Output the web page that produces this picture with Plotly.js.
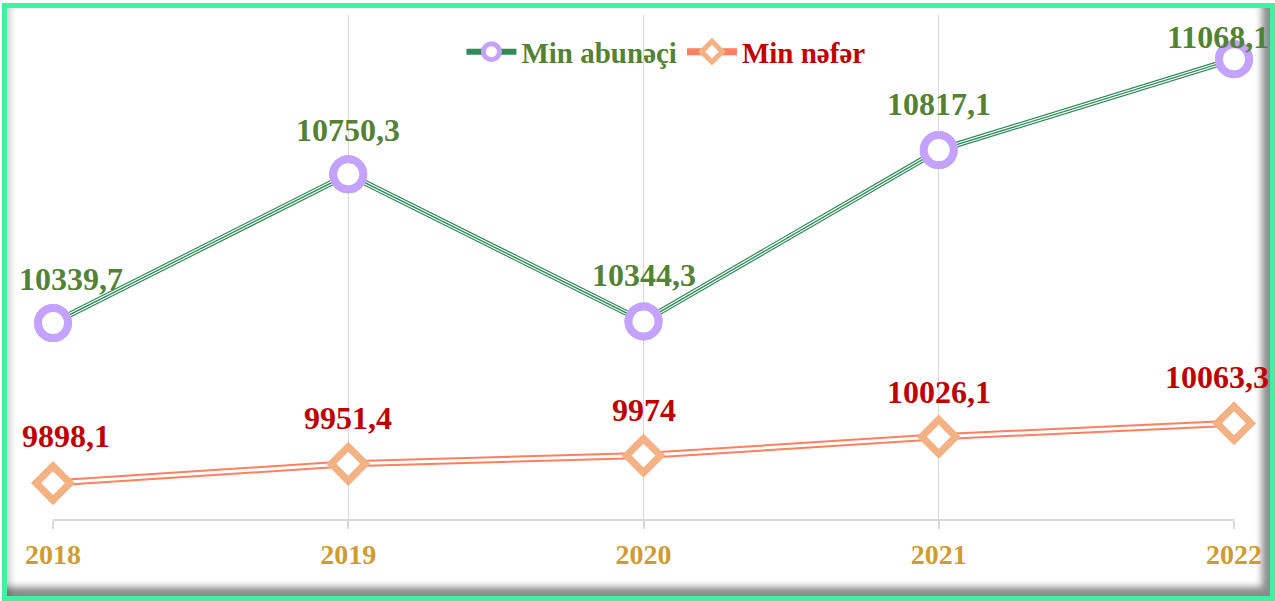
<!DOCTYPE html>
<html>
<head>
<meta charset="utf-8">
<script src="https://cdn.plot.ly/plotly-3.0.1.min.js"></script>
<style>
  html, body { margin: 0; padding: 0; background: #ffffff; }
  #wrap { position: relative; width: 1275px; height: 601px; overflow: hidden; background: #ffffff; }
  #frame {
    position: absolute; left: 2px; top: 3px; width: 1273px; height: 598px;
    box-sizing: border-box; border: 5px solid #3EF2A0;
    box-shadow: inset -11px -12px 7px -3px rgba(0,0,0,0.45), inset 7px 0 6px -3px rgba(0,0,0,0.18);
  }
  #chart { position: absolute; left: 0; top: 0; width: 1275px; height: 601px; }
</style>
</head>
<body>
<div id="wrap">
  <div id="frame"></div>
  <div id="chart"></div>
</div>
<script>
// ---- data ----
const years = ['2018', '2019', '2020', '2021', '2022'];
const subscribers = [10339.7, 10750.3, 10344.3, 10817.1, 11068.1];  // Min abunəçi
const persons = [9898.1, 9951.4, 9974, 10026.1, 10063.3];           // Min nəfər
const seriesNames = ['Min abunəçi', 'Min nəfər'];

// ---- styling ----
const GREEN_LINE = '#2E8B57';
const GREEN_TEXT = '#548235';
const PURPLE = '#C3A3FF';
const CORAL = '#FF7F5E';
const ORANGE = '#F4B183';
const RED_TEXT = '#C00000';
const GOLD = '#D29B30';
const SERIF = '"Liberation Serif", "Times New Roman", serif';

const circleMarker = { symbol: 'circle', size: 30, color: '#ffffff', line: { color: PURPLE, width: 8 } };
const diamondMarker = { symbol: 'diamond', size: 26, color: '#ffffff', line: { color: ORANGE, width: 7 } };

const traces = [
  // green triple line
  { x: years, y: subscribers, type: 'scatter', mode: 'lines+markers', name: '<span style="color:' + GREEN_TEXT + '">' + seriesNames[0] + '</span>',
    line: { color: GREEN_LINE, width: 6 }, marker: circleMarker, cliponaxis: false, hoverinfo: 'skip' },
  { x: years, y: subscribers, type: 'scatter', mode: 'lines', showlegend: false,
    line: { color: '#ffffff', width: 3.6 }, cliponaxis: false, hoverinfo: 'skip' },
  { x: years, y: subscribers, type: 'scatter', mode: 'lines+markers', showlegend: false,
    line: { color: GREEN_LINE, width: 1.3 }, marker: circleMarker, cliponaxis: false, hoverinfo: 'skip' },
  // coral double line
  { x: years, y: persons, type: 'scatter', mode: 'lines+markers', name: '<span style="color:' + RED_TEXT + '">' + seriesNames[1] + '</span>',
    line: { color: CORAL, width: 7 }, marker: diamondMarker, cliponaxis: false, hoverinfo: 'skip' },
  { x: years, y: persons, type: 'scatter', mode: 'lines', showlegend: false,
    line: { color: '#ffffff', width: 3 }, cliponaxis: false, hoverinfo: 'skip' },
  { x: years, y: persons, type: 'scatter', mode: 'markers', showlegend: false,
    marker: diamondMarker, cliponaxis: false, hoverinfo: 'skip' }
];

// label offsets (pixels), per point
const greenShift = { x: [18, 0, 0, 0, -16], y: [44, 44, 46, 46, 22] };
const redShift = { x: [13, 0, 0, 0, -17], y: [47, 46, 46, 45, 46] };
const fmt = v => String(v).replace('.', ',');

const annotations = [];
years.forEach((yr, i) => {
  annotations.push({ x: i, y: subscribers[i], xref: 'x', yref: 'y', text: '<b>' + fmt(subscribers[i]) + '</b>', showarrow: false,
    xanchor: 'center', yanchor: 'middle', xshift: greenShift.x[i], yshift: greenShift.y[i],
    font: { family: SERIF, size: 32, color: GREEN_TEXT } });
  annotations.push({ x: i, y: persons[i], xref: 'x', yref: 'y', text: '<b>' + fmt(persons[i]) + '</b>', showarrow: false,
    xanchor: 'center', yanchor: 'middle', xshift: redShift.x[i], yshift: redShift.y[i],
    font: { family: SERIF, size: 32, color: RED_TEXT } });
});

const layout = {
  width: 1275, height: 601,
  margin: { l: 53, r: 41, t: 15, b: 82, pad: 0 },
  paper_bgcolor: 'rgba(0,0,0,0)', plot_bgcolor: 'rgba(0,0,0,0)',
  showlegend: true,
  legend: {
    orientation: 'h', x: 0.519, xanchor: 'center', y: 0.927, yanchor: 'middle',
    font: { family: SERIF, size: 29, weight: 'bold' }, bgcolor: 'rgba(0,0,0,0)',
    itemwidth: 50,
    itemclick: false, itemdoubleclick: false
  },
  xaxis: {
    type: 'category', range: [0, 4], fixedrange: true,
    showgrid: true, gridcolor: '#d9d9d9', gridwidth: 1,
    showline: true, linecolor: '#d9d9d9', linewidth: 2,
    ticks: 'outside', ticklen: 8, tickcolor: '#d9d9d9', tickwidth: 2,
    ticklabelstandoff: 1,
    tickfont: { family: SERIF, size: 28, color: GOLD, weight: 'bold' },
    zeroline: false
  },
  yaxis: {
    range: [9799, 11190], fixedrange: true,
    visible: false, showgrid: false, zeroline: false
  },
  annotations: annotations
};

Plotly.newPlot('chart', traces, layout, { displayModeBar: false, staticPlot: true });
</script>
</body>
</html>
